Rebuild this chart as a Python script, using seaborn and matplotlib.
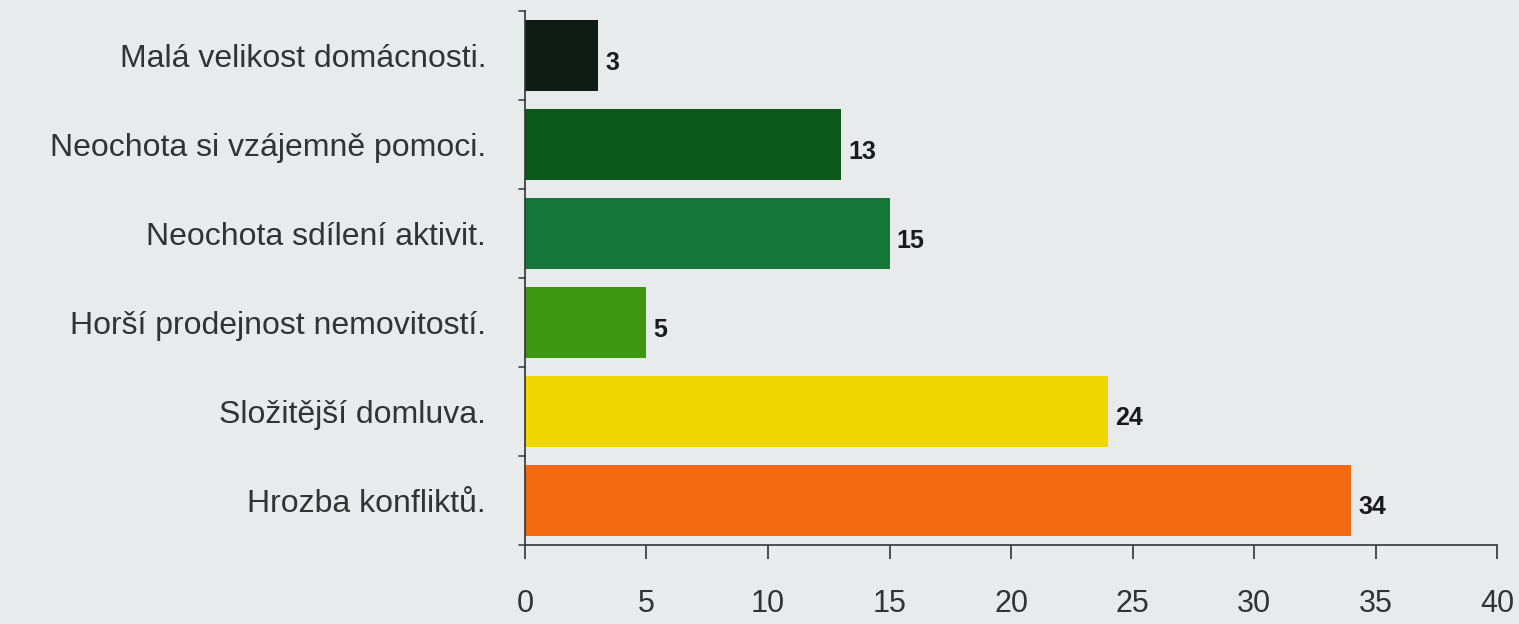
import matplotlib
matplotlib.use("Agg")
import matplotlib.pyplot as plt
import seaborn as sns
import pandas as pd

# Reasons and number of responses
categories = [
    "Malá velikost domácnosti.",
    "Neochota si vzájemně pomoci.",
    "Neochota sdílení aktivit.",
    "Horší prodejnost nemovitostí.",
    "Složitější domluva.",
    "Hrozba konfliktů.",
]
counts = [3, 13, 15, 5, 24, 34]
bar_colors = ["#0f1c13", "#0b5a1c", "#17773a", "#3f9612", "#eed800", "#f26a12"]
x_ticks = [0, 5, 10, 15, 20, 25, 30, 35, 40]

df = pd.DataFrame({"reason": categories, "count": counts})

sns.set_theme(style="white")
plt.rcParams["font.family"] = ["Liberation Sans", "DejaVu Sans"]

bg = "#e7ebec"
fig = plt.figure(figsize=(15.19, 6.24), dpi=100, facecolor=bg)
ax = fig.add_axes([0.3456, 0.127, 0.64, 0.855])
ax.set_facecolor(bg)

sns.barplot(data=df, y="reason", x="count", hue="reason", palette=bar_colors,
            legend=False, orient="h", width=0.8, ax=ax, saturation=1,
            linewidth=0)

for i, v in enumerate(counts):
    ax.text(v + 0.3, i + 0.08, str(v), va="center", ha="left",
            fontsize=18, fontweight="bold", color="#1a1a1a")

ax.set_xlim(0, 40)
ax.set_ylim(len(categories) - 0.5, -0.5)
ax.set_xticks(x_ticks)
ax.set_xticklabels([str(t) for t in x_ticks], fontsize=22, color="#333333")
ax.tick_params(axis="x", direction="out", length=10, width=1.2, color="#333333", pad=22, bottom=True)

# category boundary ticks on the left spine
ax.set_yticks(range(len(categories)))
ax.set_yticklabels(categories, fontsize=23, color="#333333")
ax.tick_params(axis="y", length=0, pad=28)
for b in [i + 0.5 for i in range(-1, len(categories))]:
    ax.plot([-0.25, 0], [b, b], color="#444444", lw=1.2, clip_on=False)

ax.set_xlabel("")
ax.set_ylabel("")
for side in ["top", "right"]:
    ax.spines[side].set_visible(False)
for side in ["left", "bottom"]:
    ax.spines[side].set_color("#333333")
    ax.spines[side].set_linewidth(1.2)

fig.savefig("out.png", dpi=100, facecolor=bg)
